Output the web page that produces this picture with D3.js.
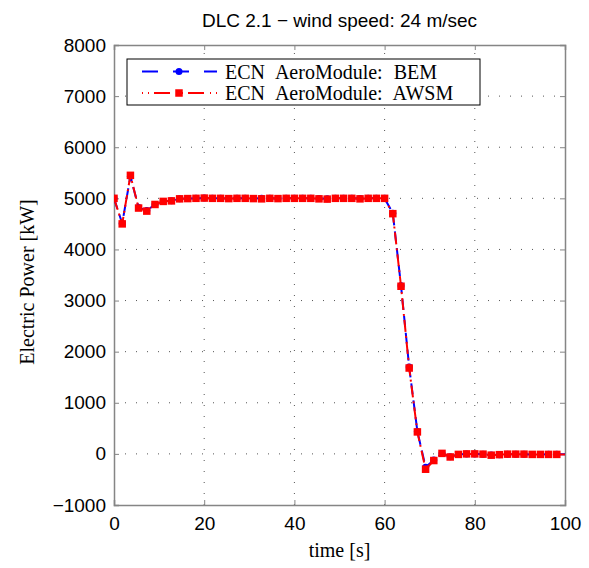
<!DOCTYPE html>
<html>
<head>
<meta charset="utf-8">
<script src="https://cdn.jsdelivr.net/npm/d3@7/dist/d3.min.js"></script>
<style>
  body { margin: 0; background: #fff; }
  svg { display: block; }
</style>
</head>
<body>
<svg id="chart" width="589" height="568"></svg>
<script>
// sample times [s]
var time = [0, 1.82, 3.64, 5.45, 7.27, 9.09, 10.91, 12.73, 14.55, 16.36, 18.18,
  20, 21.82, 23.64, 25.45, 27.27, 29.09, 30.91, 32.73, 34.55, 36.36, 38.18,
  40, 41.82, 43.64, 45.45, 47.27, 49.09, 50.91, 52.73, 54.55, 56.36, 58.18,
  60, 61.82, 63.64, 65.45, 67.27, 69.09, 70.91, 72.73, 74.55, 76.36, 78.18,
  80, 81.82, 83.64, 85.45, 87.27, 89.09, 90.91, 92.73, 94.55, 96.36, 98.18, 100];

// electric power [kW]
var bem = [5000, 4510, 5430, 4820, 4760, 4880, 4940, 4955, 4990, 4995, 5000,
  5005, 5000, 5000, 4995, 5000, 5000, 4995, 5000, 5000, 4995, 5000,
  5000, 5000, 5000, 4995, 4990, 5000, 5000, 5000, 4995, 5000, 5000,
  5000, 4710, 3290, 1700, 440, -260, -120, 10, -55, -10, 0,
  0, -5, -20, -15, -5, -5, -5, -10, -10, -5, -5, -5];
var awsm = [5000, 4500, 5450, 4810, 4750, 4880, 4940, 4950, 4990, 4995, 5000,
  5005, 5000, 5000, 4995, 5000, 5000, 4995, 4990, 5000, 4995, 5000,
  5000, 5000, 5000, 4990, 4985, 5000, 5000, 5000, 4990, 5000, 5000,
  5000, 4700, 3280, 1680, 430, -300, -130, 10, -60, -10, 0,
  0, -5, -25, -15, -5, -5, -5, -10, -10, -10, -10, -10];

var xTicks = [0, 20, 40, 60, 80, 100];
var yTicks = [-1000, 0, 1000, 2000, 3000, 4000, 5000, 6000, 7000, 8000];
var seriesNames = ["ECN AeroModule: BEM", "ECN AeroModule: AWSM"];

var svg = d3.select("#chart"),
    MARGINS = { top: 45, right: 24, bottom: 63, left: 114 },
    WIDTH = 589, HEIGHT = 568,
    x0 = MARGINS.left, x1 = WIDTH - MARGINS.right,
    y0 = HEIGHT - MARGINS.bottom, y1 = MARGINS.top;

var xScale = d3.scaleLinear().domain([0, 100]).range([x0, x1]),
    yScale = d3.scaleLinear().domain([-1000, 8000]).range([y0, y1]);

var sans = "'Liberation Sans', Arial, Helvetica, sans-serif",
    serif = "'Liberation Serif', 'Times New Roman', serif",
    axisGray = "#858585";

// grid
var grid = svg.append("g")
    .attr("stroke", "#555")
    .attr("stroke-width", 1)
    .attr("stroke-dasharray", "1,10");
grid.selectAll("line.gx").data(xTicks.slice(1, -1)).enter().append("line")
    .attr("x1", function(d) { return xScale(d); }).attr("x2", function(d) { return xScale(d); })
    .attr("y1", y0).attr("y2", y1);
grid.selectAll("line.gy").data(yTicks.slice(1, -1)).enter().append("line")
    .attr("y1", function(d) { return yScale(d); }).attr("y2", function(d) { return yScale(d); })
    .attr("x1", x0).attr("x2", x1);

// axes (ticks inside, box on all sides)
var xAxis = d3.axisBottom(xScale).tickValues(xTicks).tickSize(-5).tickPadding(12).tickFormat(d3.format("d")),
    yAxis = d3.axisLeft(yScale).tickValues(yTicks).tickSize(-5).tickPadding(8).tickFormat(d3.format("d")),
    xTop = d3.axisTop(xScale).tickValues(xTicks).tickSize(-5).tickFormat(""),
    yRight = d3.axisRight(yScale).tickValues(yTicks).tickSize(-5).tickFormat("");

function styleAxis(g) {
  g.select(".domain").attr("stroke", axisGray).attr("stroke-width", 1.5);
  g.selectAll(".tick line").attr("stroke", axisGray).attr("stroke-width", 1);
  g.selectAll(".tick text").attr("fill", "#000").style("font-family", sans).style("font-size", "19px");
}

svg.append("g").attr("transform", "translate(0," + y0 + ")").call(xAxis).call(styleAxis);
svg.append("g").attr("transform", "translate(" + x0 + ",0)").call(yAxis).call(styleAxis);
svg.append("g").attr("transform", "translate(0," + y1 + ")").call(xTop).call(styleAxis);
svg.append("g").attr("transform", "translate(" + x1 + ",0)").call(yRight).call(styleAxis);

// clip
svg.append("clipPath").attr("id", "plotclip").append("rect")
    .attr("x", x0).attr("y", y1).attr("width", x1 - x0).attr("height", y0 - y1);

var lineGen = function(vals) {
  return d3.line()
    .x(function(d, i) { return xScale(time[i]); })
    .y(function(d) { return yScale(d); })(vals);
};

var plot = svg.append("g").attr("clip-path", "url(#plotclip)");

// BEM: blue dashed, circles
plot.append("path")
    .attr("d", lineGen(bem))
    .attr("fill", "none").attr("stroke", "#0000ff").attr("stroke-width", 2)
    .attr("stroke-dasharray", "11,6");
plot.selectAll("circle.bem").data(bem.slice(0, -1)).enter().append("circle")
    .attr("cx", function(d, i) { return xScale(time[i]); })
    .attr("cy", function(d) { return yScale(d); })
    .attr("r", 3.5).attr("fill", "#0000ff");

// AWSM: red dash-dot, squares
plot.append("path")
    .attr("d", lineGen(awsm))
    .attr("fill", "none").attr("stroke", "#ff0000").attr("stroke-width", 2)
    .attr("stroke-dasharray", "12,4,2,4");
plot.selectAll("rect.awsm").data(awsm.slice(0, -1)).enter().append("rect")
    .attr("x", function(d, i) { return xScale(time[i]) - 3.75; })
    .attr("y", function(d) { return yScale(d) - 3.75; })
    .attr("width", 7.5).attr("height", 7.5).attr("fill", "#ff0000");

// title and labels
svg.append("text")
    .attr("x", (x0 + x1) / 2).attr("y", 20)
    .attr("text-anchor", "middle").attr("dominant-baseline", "central")
    .style("font-family", sans).style("font-size", "19px")
    .text("DLC 2.1 \u2212 wind speed: 24 m/sec");

svg.append("text")
    .attr("x", (x0 + x1) / 2).attr("y", 550)
    .attr("text-anchor", "middle").attr("dominant-baseline", "central")
    .style("font-family", serif).style("font-size", "20px")
    .text("time [s]");

svg.append("text")
    .attr("transform", "translate(27," + 282 + ") rotate(-90)")
    .attr("text-anchor", "middle").attr("dominant-baseline", "central")
    .style("font-family", serif).style("font-size", "20px")
    .text("Electric Power [kW]");

// legend
var legend = svg.append("g");
legend.append("rect")
    .attr("x", 127).attr("y", 59).attr("width", 353).attr("height", 46)
    .attr("fill", "#fff").attr("stroke", "#000").attr("stroke-width", 1);

var legRows = [
  { name: seriesNames[0], color: "#0000ff", dash: "16,15", marker: "circle", y: 71.5 },
  { name: seriesNames[1], color: "#ff0000", dash: "1,5,1,5,16,6", marker: "rect", y: 93 }
];
legRows.forEach(function(r) {
  legend.append("line")
      .attr("x1", 142).attr("x2", 217).attr("y1", r.y).attr("y2", r.y)
      .attr("stroke", r.color).attr("stroke-width", 2).attr("stroke-dasharray", r.dash);
  if (r.marker === "circle") {
    legend.append("circle").attr("cx", 179).attr("cy", r.y).attr("r", 3.5).attr("fill", r.color);
  } else {
    legend.append("rect").attr("x", 179 - 3.75).attr("y", r.y - 3.75)
        .attr("width", 7.5).attr("height", 7.5).attr("fill", r.color);
  }
  legend.append("text")
      .attr("x", 225).attr("y", r.y)
      .attr("dominant-baseline", "central")
      .style("font-family", serif).style("font-size", "20px").style("word-spacing", "6px")
      .text(r.name);
});
</script>
</body>
</html>
